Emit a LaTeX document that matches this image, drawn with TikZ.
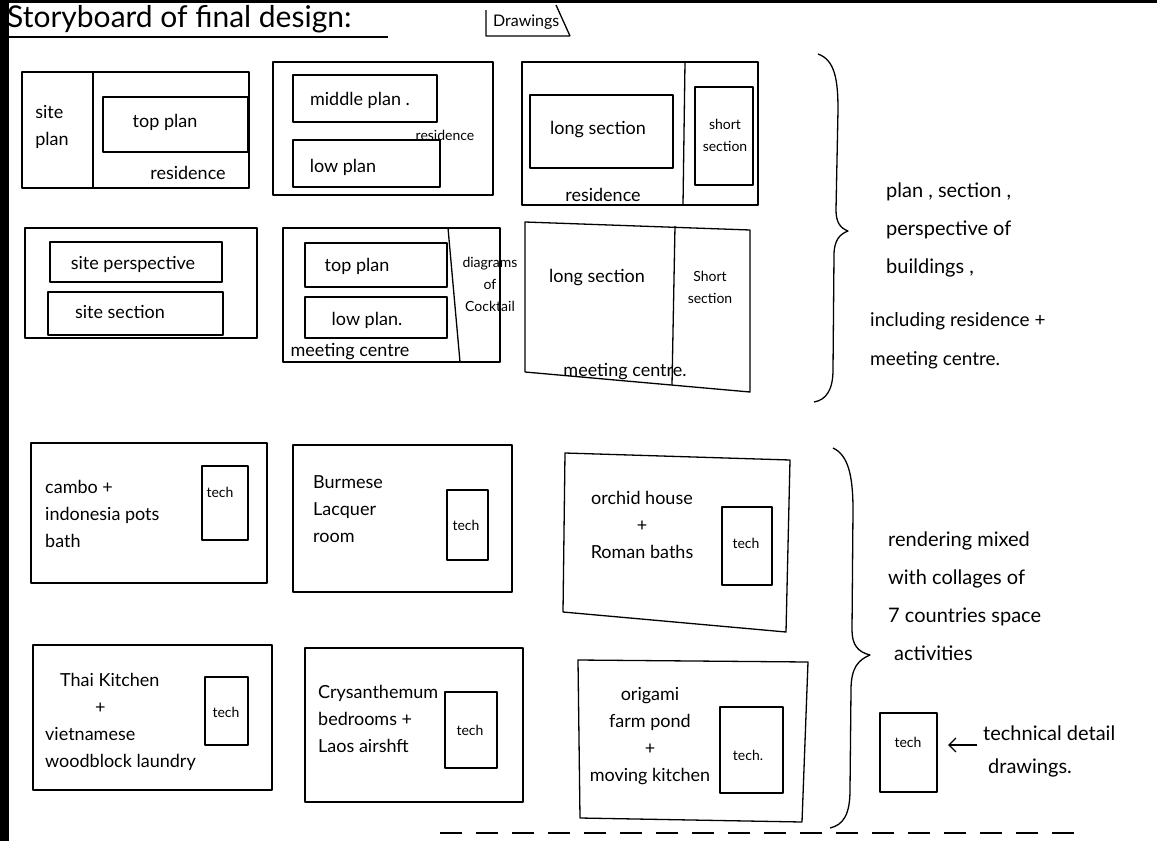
\documentclass[tikz,border=0pt]{standalone}
\usepackage{fontspec}
\setmainfont{Lato}
\usetikzlibrary{positioning,arrows.meta,calc}

\tikzset{
  pen/.style={line width=1.3pt, line join=round},
  txt/.style={font=\fontsize{18}{27}\selectfont, align=left, inner sep=0pt},
  small/.style={font=\fontsize{14}{22}\selectfont, align=center, inner sep=0pt},
  note/.style={font=\fontsize{20}{38}\selectfont, align=left, inner sep=0pt, anchor=west},
}

\begin{document}
\begin{tikzpicture}[x=1pt,y=-1pt]
    \useasboundingbox (0,0) rectangle (1157,841);
    % scan edges
    \fill[black] (0,0) rectangle (9,841);
    \fill[black] (0,0) rectangle (1157,3);

    % Title
    \node[font=\fontsize{30}{32}\selectfont, anchor=base west, inner sep=0pt] (title) at (7,27) {Storyboard of final design:};
    \draw[pen] (5,37) -- (388,37);
    \node[font=\fontsize{16}{18}\selectfont, anchor=base west, inner sep=0pt] (drawings) at (493,26) {Drawings};
    \draw[pen] (486,10) -- (486,36) -- (570,36) (556,5) -- (570,36);

    % Row 1 -- residence
    \draw[pen] (22,72) rectangle (249,188);
    \draw[pen] (93,72) -- (93,188);
    \draw[pen] (103,97) rectangle (248,152);
    \node[txt] (siteplan) at (52,127) {site\\plan};
    \node[txt] (topplanA) at (165,122) {top plan};
    \node[txt] (resA) at (188,173) {residence};

    \draw[pen] (273,62) rectangle (493,195);
    \draw[pen] (293,75) rectangle (437,122);
    \node[txt] (midplan) at (360,100) {middle plan .};
    \node[small] (resB) at (445,135) {residence};
    \draw[pen] (293,140) rectangle (440,187);
    \node[txt] (lowplanB) at (343,167) {low plan};

    \draw[pen] (522,62) rectangle (758,205);
    \draw[pen] (685,62) -- (683,205);
    \draw[pen] (530,95) rectangle (673,168);
    \node[txt] (longC) at (598,130) {long section};
    \draw[pen] (695,87) rectangle (753,185);
    \node[small] (shortC) at (725,135) {short\\section};
    \node[txt] (resC) at (603,195) {residence};

    % Row 2 -- site + meeting centre
    \draw[pen] (25,228) rectangle (257,338);
    \draw[pen] (50,242) rectangle (222,282);
    \node[txt] (siteper) at (133,264) {site perspective};
    \draw[pen] (48,292) rectangle (223,335);
    \node[txt] (sitesec) at (120,312) {site section};

    \draw[pen] (283,228) rectangle (500,362);
    \draw[pen] (448,228) -- (460,362);
    \draw[pen] (305,243) rectangle (447,287);
    \node[txt] (topplanE) at (357,266) {top plan};
    \draw[pen] (305,297) rectangle (447,338);
    \node[txt] (lowplanE) at (367,320) {low plan.};
    \node[txt] (meetE) at (350,352) {meeting centre};
    \node[small] (diag) at (490,284) {diagrams\\of\\Cocktail};

    \draw[pen] (525,222) -- (750,230) -- (750,392) -- (525,372) -- cycle;
    \draw[pen] (675,226) -- (672,385);
    \node[txt] (longF) at (597,278) {long section};
    \node[small] (shortF) at (710,287) {Short\\section};
    \node[txt] (meetF) at (625,372) {meeting centre.};

    % Brace 1
    \draw[pen] (818,54) .. controls (835,60) and (838,80) .. (838,110) -- (836,210)
        .. controls (836,222) and (840,228) .. (848,231)
        .. controls (840,234) and (834,240) .. (834,255) -- (833,370)
        .. controls (833,390) and (826,400) .. (814,402);
    \node[note] (note1) at (886,230) {plan , section ,\\perspective of\\buildings ,};
    \node[note, font=\fontsize{19}{39}\selectfont] (note2) at (870,341) {including residence +\\meeting centre.};

    % Row 3 -- renderings
    \draw[pen] (31,443) rectangle (267,583);
    \draw[pen] (202,466) rectangle (248,540);
    \node[small] (techG) at (220,492) {tech};
    \node[txt, anchor=west] (cambo) at (45,514) {cambo +\\indonesia pots\\bath};

    \draw[pen] (293,445) rectangle (512,592);
    \draw[pen] (447,490) rectangle (488,560);
    \node[small] (techH) at (466,525) {tech};
    \node[txt, anchor=west] (burmese) at (313,509) {Burmese\\Lacquer\\room};

    \draw[pen] (565,453) -- (790,460) -- (786,632) -- (563,612) -- cycle;
    \draw[pen] (722,507) rectangle (772,585);
    \node[small] (techI) at (746,543) {tech};
    \node[txt, align=center] (orchid) at (642,525) {orchid house\\+\\Roman baths};

    % Row 4
    \draw[pen] (33,645) rectangle (272,790);
    \draw[pen] (205,677) rectangle (248,745);
    \node[small] (techJ) at (226,712) {tech};
    \node[txt, anchor=west] (thai) at (45,722) {\hspace*{15pt}Thai Kitchen\\\hspace*{50pt}+\\vietnamese\\woodblock laundry};

    \draw[pen] (305,648) rectangle (523,802);
    \draw[pen] (445,692) rectangle (497,768);
    \node[small] (techK) at (470,730) {tech};
    \node[txt, anchor=west] (crys) at (318,719) {Crysanthemum\\bedrooms +\\Laos airshft};

    \draw[pen] (578,660) -- (808,662) -- (802,822) -- (580,818) -- cycle;
    \draw[pen] (720,707) rectangle (783,793);
    \node[small] (techL) at (748,755) {tech.};
    \node[txt, align=center] (origami) at (650,736) {origami\\farm pond\\+\\moving kitchen};

    % Brace 2
    \draw[pen] (833,448) .. controls (848,455) and (853,475) .. (853,510) -- (852,630)
        .. controls (852,645) and (858,652) .. (870,655)
        .. controls (858,660) and (851,668) .. (851,690) -- (850,790)
        .. controls (850,815) and (843,825) .. (830,828);
    \node[note] (note3) at (888,596) {rendering mixed\\with collages of\\7 countries space\\\hspace*{6pt}activities};

    % Legend
    \draw[pen] (880,713) rectangle (937,792);
    \node[small] (techLeg) at (908,742) {tech};
    \coordinate (legedge) at (937,745);
    \node[note] (techdet) at (983,733) {technical detail};
    \node[note] (drawL) at (988,768) {drawings.};
    \coordinate (arrowstart) at (977,745);
    \draw[pen, -{Straight Barb[length=7pt]}, shorten >=11pt] (arrowstart) -- (legedge);

    % Dashed line
    \draw[pen, dash pattern=on 22pt off 14pt] (440,833) -- (1085,833);
\end{tikzpicture}
\end{document}
